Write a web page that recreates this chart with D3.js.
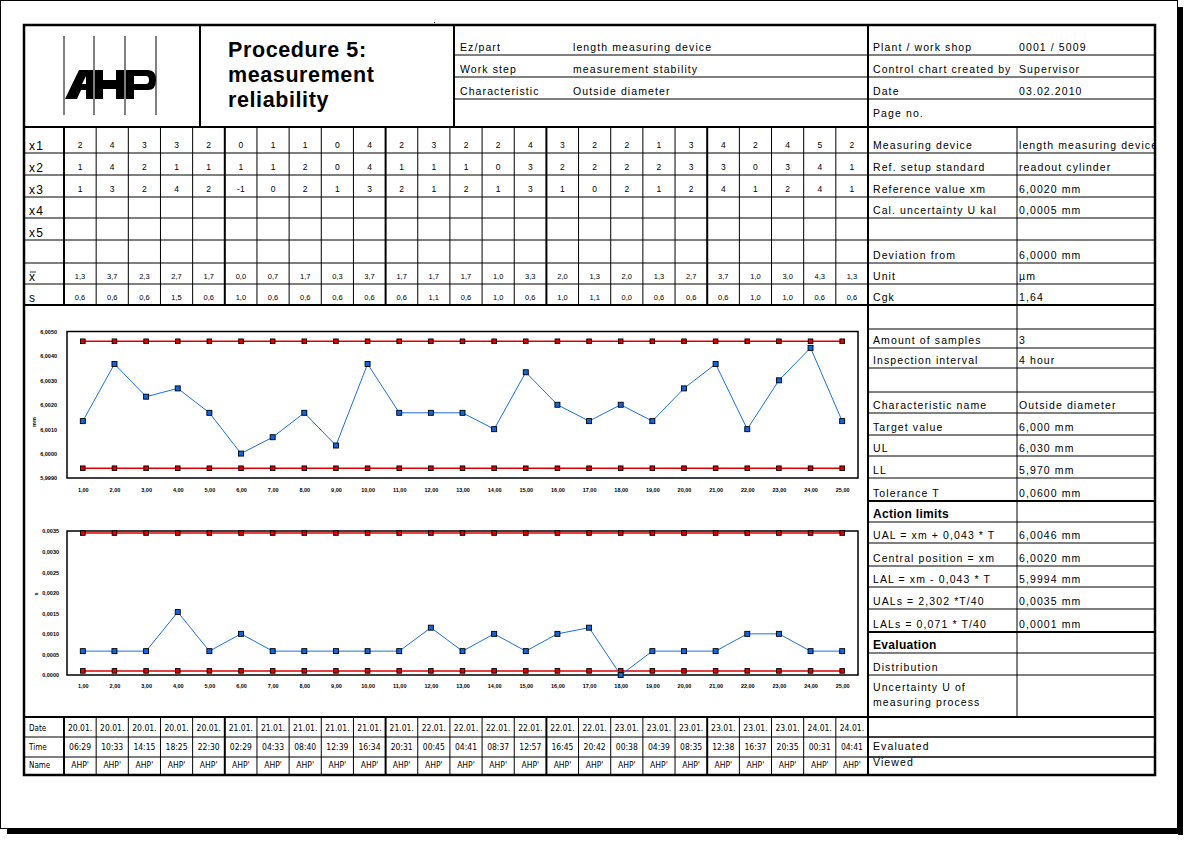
<!DOCTYPE html>
<html>
<head>
<meta charset="utf-8">
<script src="https://cdn.jsdelivr.net/npm/d3@7"></script>
<style>
body { margin: 0; background: #fff; }
text { font-family: "Liberation Sans", Arial, sans-serif; fill: #000; }
</style>
</head>
<body>
<script>
var width = 1196,
    height = 846;

// ---- data ----
var samples = [1, 2, 3, 4, 5, 6, 7, 8, 9, 10, 11, 12, 13, 14, 15, 16, 17, 18, 19, 20, 21, 22, 23, 24, 25];
var x1 = [2, 4, 3, 3, 2, 0, 1, 1, 0, 4, 2, 3, 2, 2, 4, 3, 2, 2, 1, 3, 4, 2, 4, 5, 2];
var x2 = [1, 4, 2, 1, 1, 1, 1, 2, 0, 4, 1, 1, 1, 0, 3, 2, 2, 2, 2, 3, 3, 0, 3, 4, 1];
var x3 = [1, 3, 2, 4, 2, -1, 0, 2, 1, 3, 2, 1, 2, 1, 3, 1, 0, 2, 1, 2, 4, 1, 2, 4, 1];
var xbar = [1.33, 3.67, 2.33, 2.67, 1.67, 0.00, 0.67, 1.67, 0.33, 3.67, 1.67, 1.67, 1.67, 1.00, 3.33,
            2.00, 1.33, 2.00, 1.33, 2.67, 3.67, 1.00, 3.00, 4.33, 1.33];
var sdev = [0.58, 0.58, 0.58, 1.53, 0.58, 1.00, 0.58, 0.58, 0.58, 0.58, 0.58, 1.15, 0.58, 1.00, 0.58,
            1.00, 1.15, 0.00, 0.58, 0.58, 0.58, 1.00, 1.00, 0.58, 0.58];
var dates = ["20.01.", "20.01.", "20.01.", "20.01.", "20.01.", "21.01.", "21.01.", "21.01.", "21.01.", "21.01.",
             "21.01.", "22.01.", "22.01.", "22.01.", "22.01.", "22.01.", "22.01.", "23.01.", "23.01.", "23.01.",
             "23.01.", "23.01.", "23.01.", "24.01.", "24.01."];
var times = ["06:29", "10:33", "14:15", "18:25", "22:30", "02:29", "04:33", "08:40", "12:39", "16:34",
             "20:31", "00:45", "04:41", "08:37", "12:57", "16:45", "20:42", "00:38", "04:39", "08:35",
             "12:38", "16:37", "20:35", "00:31", "04:41"];
var names = samples.map(function() { return "AHP'"; });

var nominal = 6.0;          // deviation from, mm
var ual = 6.0046, lal = 5.9994;
var uals = 0.00345, lals = 0.0001;
var xbarTicks = [5.999, 6.000, 6.001, 6.002, 6.003, 6.004, 6.005];
var sTicks = [0, 0.0005, 0.0010, 0.0015, 0.0020, 0.0025, 0.0030, 0.0035];

var headMid = [["Ez/part", "length measuring device"], ["Work step", "measurement stability"], ["Characteristic", "Outside diameter"]];
var headRight = [["Plant / work shop", "0001  / 5009"], ["Control chart created by", "Supervisor"], ["Date", "03.02.2010"], ["Page no.", ""]];
var infoTop = [["Measuring device", "length measuring device"], ["Ref. setup standard", "readout cylinder"],
               ["Reference value xm", "6,0020 mm"], ["Cal. uncertainty U kal", "0,0005 mm"], ["", ""],
               ["Deviation from", "6,0000 mm"], ["Unit", " µm"], ["Cgk", "1,64"]];
var infoLow = [["", ""], ["Amount of samples", "3"], ["Inspection interval", "4 hour"], ["", ""],
               ["Characteristic name", "Outside diameter"], ["Target value", "6,000 mm"], ["UL", "6,030 mm"],
               ["LL", "5,970 mm"], ["Tolerance T", "0,0600 mm"], ["Action limits", ""],
               ["UAL = xm  + 0,043 * T", "6,0046 mm"], ["Central position = xm", "6,0020 mm"],
               ["LAL = xm  - 0,043 * T", "5,9994 mm"], ["UALs = 2,302 *T/40", "0,0035 mm"],
               ["LALs = 0,071  * T/40", "0,0001 mm"], ["Evaluation", ""], ["Distribution", ""],
               ["Uncertainty U  of", ""], ["", ""], ["Evaluated", ""], ["Viewed", ""]];

var comma = function(f) { return function(v) { return d3.format(f)(v).replace(".", ","); }; };

var svg = d3.select('body')
    .append('svg')
    .attr('width', width)
    .attr('height', height);

function ln(xa, ya, xb, yb, w) {
    svg.append('line')
        .attr('x1', xa).attr('y1', ya).attr('x2', xb).attr('y2', yb)
        .attr('stroke', '#000').attr('stroke-width', w || 1);
}
function tx(x, y, s, size, opt) {
    opt = opt || {};
    var t = svg.append('text')
        .attr('x', x).attr('y', y)
        .attr('font-size', size)
        .attr('letter-spacing', opt.ls == null ? 1.1 : opt.ls)
        .attr('text-anchor', opt.anchor || 'start')
        .text(s);
    if (opt.bold) t.attr('font-weight', 'bold');
    if (opt.family) t.style('font-family', opt.family);
    if (opt.clip) t.attr('clip-path', opt.clip);
    return t;
}

// ---- page ----
svg.append('rect').attr('x', 0.5).attr('y', 0.5).attr('width', 1177).attr('height', 828)
    .attr('fill', 'none').attr('stroke', '#000');
svg.append('rect').attr('x', 1178).attr('y', 7).attr('width', 5).attr('height', 828).attr('fill', '#000');
svg.append('rect').attr('x', 7).attr('y', 829).attr('width', 1176).attr('height', 5).attr('fill', '#000');
svg.append('rect').attr('x', 434).attr('y', 22).attr('width', 1).attr('height', 1).attr('fill', '#000');

var L = 24, R = 1155, T = 25, B = 775;
var colX0 = 64, colW = 32.16, splitX = 868, valX = 1017;
var colX = d3.scaleLinear().domain([0, 25]).range([colX0, colX0 + 25 * colW]);

// ---- header ----
var headBot = 127;
ln(200, T, 200, headBot, 2);
ln(454, T, 454, headBot, 2);
[55, 77, 99].forEach(function(y) { ln(454, y, splitX, y); ln(splitX, y, R, y); });
headMid.forEach(function(r, i) {
    tx(460, 51 + i * 22, r[0], 10.5);
    tx(573, 51 + i * 22, r[1], 10.5);
});
headRight.forEach(function(r, i) {
    tx(873, 51 + i * 22, r[0], 10.5);
    tx(1019, 51 + i * 22, r[1], 10.5);
});
tx(228, 57, "Procedure 5:", 21.5, {bold: true, ls: 0.6});
tx(228, 82, "measurement", 21.5, {bold: true, ls: 0.6});
tx(228, 107, "reliability", 21.5, {bold: true, ls: 0.6});

// logo
[64, 94, 125, 156].forEach(function(x) { ln(x, 36, x, 115, 1); });
svg.append('path').attr('fill', '#000').attr('fill-rule', 'evenodd')
    .attr('d', "M65,99 L79,70 L93,70 L93,99 L86,99 L86,90 L81,90 L77,99 Z M82,84 L86,76 L86,84 Z");
svg.append('path').attr('fill', '#000')
    .attr('d', "M95,70 H103 V80 H116 V70 H124 V99 H116 V89 H103 V99 H95 Z");
svg.append('path').attr('fill', '#000').attr('fill-rule', 'evenodd')
    .attr('d', "M126,70 H148 Q156,70 156,80 Q156,90 148,90 H134 V99 H126 Z M134,76 H146 Q149,76 149,80 Q149,84 146,84 H134 Z");

// ---- measurement table (rows share the lines of the info block on the right) ----
var rowY = [127, 153, 175, 197, 218, 240, 263, 284, 305];
var rowLabels = ["x1", "x2", "x3", "x4", "x5", "", "x", "s"];
rowY.slice(1, -1).forEach(function(y) { ln(L, y, R, y); });
rowLabels.forEach(function(s, i) {
    tx(29, rowY[i + 1] - 3.5, s, 12, {ls: 1.2});
});
ln(30, rowY[6] + 9, 36, rowY[6] + 9, 0.8);
var rows = [x1, x2, x3];
rows.forEach(function(arr, r) {
    svg.append('g').selectAll('text').data(arr).enter().append('text')
        .attr('x', function(d, i) { return colX(i + 0.5); })
        .attr('y', rowY[r + 1] - 5)
        .attr('text-anchor', 'middle').attr('font-size', 8.5)
        .text(function(d) { return d; });
});
[[xbar, 6], [sdev, 7]].forEach(function(p) {
    svg.append('g').selectAll('text').data(p[0]).enter().append('text')
        .attr('x', function(d, i) { return colX(i + 0.5); })
        .attr('y', rowY[p[1] + 1] - 5.5)
        .attr('text-anchor', 'middle').attr('font-size', 7.5)
        .text(comma('.1f'));
});

// right info (top)
var infoY = rowY;
ln(valX, headBot, valX, 717, 1);
svg.append('clipPath').attr('id', 'valclip').append('rect')
    .attr('x', valX).attr('y', 120).attr('width', R - valX - 1).attr('height', 200);
infoTop.forEach(function(r, i) {
    tx(873, infoY[i + 1] - 4.5, r[0], 10.5);
    tx(1019, infoY[i + 1] - 4.5, r[1], 10.5, {clip: 'url(#valclip)'});
});

// ---- right info (lower) ----
var lowY = [305, 329, 348, 368, 392, 413, 435, 456, 478, 501, 522, 543, 566, 587, 609, 632, 653, 675, 717, 737, 757, 775];
var thickLow = [501, 632, 717];
lowY.slice(1, -1).forEach(function(y) {
    ln(splitX, y, R, y, thickLow.indexOf(y) >= 0 ? 2 : 1);
});
infoLow.forEach(function(r, i) {
    var bold = (r[0] === "Action limits" || r[0] === "Evaluation");
    var y = lowY[i + 1] - 4;
    if (r[0] === "Uncertainty U  of") y = 691;
    if (r[0] === "Evaluated") y = 750;
    if (r[0] === "Viewed") y = 766;
    tx(873, y, r[0], bold ? 12 : 10.5, {bold: bold, ls: bold ? 0.3 : 1.1});
    tx(1019, y, r[1], 10.5);
});
tx(873, 706, "measuring process", 10.5);

// ---- column lines of the left tables ----
for (var c = 0; c < 25; c++) {
    var w = (c % 5 === 0) ? 2 : 1;
    ln(colX(c), headBot, colX(c), 305, w);
    ln(colX(c), 717, colX(c), B, w);
}
ln(L, 305, R, 305, 2);
ln(L, 717, R, 717, 2);
ln(splitX, T, splitX, B, 2);

// ---- bottom table ----
ln(L, 737, R, 737);
ln(L, 757, R, 757);
var narrow = '"Liberation Sans Narrow", "DejaVu Sans Condensed", sans-serif';
[["Date", 731], ["Time", 750], ["Name", 768]].forEach(function(p) {
    tx(29, p[1], p[0], 8, {ls: 0, family: narrow});
});
[[dates, 731], [times, 750], [names, 768]].forEach(function(p) {
    svg.append('g').selectAll('text').data(p[0]).enter().append('text')
        .attr('x', function(d, i) { return colX(i + 0.5); })
        .attr('y', p[1])
        .attr('text-anchor', 'middle').attr('font-size', 8.5)
        .style('font-family', narrow)
        .text(function(d) { return d; });
});

// ---- charts ----
var x = d3.scaleLinear().domain([0.5, 25.5]).range([67, 858]);

function chart(o) {
    var g = svg.append('g');
    var y = d3.scaleLinear().domain(o.domain).range(o.range);
    g.append('rect').attr('x', 67).attr('y', o.range[1]).attr('width', 858 - 67)
        .attr('height', o.range[0] - o.range[1]).attr('fill', 'none').attr('stroke', '#000').attr('stroke-width', 1.5);

    var ya = g.append('g').attr('transform', 'translate(' + o.labX + ',0)')
        .call(d3.axisLeft(y).tickValues(o.ticks).tickSize(0).tickPadding(0).tickFormat(comma('.4f')));
    ya.select('.domain').remove();
    ya.selectAll('text').attr('font-size', 5.5).attr('font-weight', 'bold').attr('dy', '0.35em');

    var xa = g.append('g').attr('transform', 'translate(0,' + o.labY + ')')
        .call(d3.axisBottom(x).tickValues(samples).tickSize(0).tickPadding(0).tickFormat(comma('.2f')));
    xa.select('.domain').remove();
    xa.selectAll('text').attr('font-size', 5.5).attr('font-weight', 'bold');

    g.append('text').attr('transform', 'translate(' + o.unitX + ',' + o.unitY + ') rotate(-90)')
        .attr('text-anchor', 'middle').attr('font-size', 5.5).attr('font-weight', 'bold').text(o.unit);

    [o.upper, o.lower].forEach(function(v) {
        g.append('path').datum(samples)
            .attr('fill', 'none').attr('stroke', '#e00000').attr('stroke-width', 1.5)
            .attr('d', d3.line().x(function(d) { return x(d); }).y(function() { return y(v); }));
        g.append('g').selectAll('rect').data(samples).enter().append('rect')
            .attr('x', function(d) { return x(d) - 2.3; }).attr('y', y(v) - 2.3)
            .attr('width', 4.6).attr('height', 4.6)
            .attr('fill', '#e00000').attr('stroke', '#000').attr('stroke-width', 0.9);
    });
    g.append('path').datum(o.values)
        .attr('fill', 'none').attr('stroke', '#1a6ee8').attr('stroke-width', 1)
        .attr('d', d3.line().x(function(d, i) { return x(samples[i]); }).y(function(d) { return y(d); }));
    g.append('g').selectAll('rect').data(o.values).enter().append('rect')
        .attr('x', function(d, i) { return x(samples[i]) - 2.5; })
        .attr('y', function(d) { return y(d) - 2.5; })
        .attr('width', 5).attr('height', 5)
        .attr('fill', '#1464dc').attr('stroke', '#000').attr('stroke-width', 0.9);
}

chart({
    domain: [5.999, 6.005], range: [478, 331.5], ticks: xbarTicks,
    values: xbar.map(function(v) { return nominal + v / 1000; }),
    upper: ual, lower: lal, labX: 57, labY: 488, unit: "mm", unitX: 36, unitY: 422
});
chart({
    domain: [0, 0.0035], range: [675, 531], ticks: sTicks,
    values: sdev.map(function(v) { return v / 1000; }),
    upper: uals, lower: lals, labX: 59, labY: 684, unit: "s", unitX: 38, unitY: 594
});

// outer frame last so it sits on top
svg.append('rect').attr('x', L).attr('y', T).attr('width', R - L).attr('height', B - T)
    .attr('fill', 'none').attr('stroke', '#000').attr('stroke-width', 2.5);
ln(L, headBot, R, headBot, 2);
</script>
</body>
</html>
